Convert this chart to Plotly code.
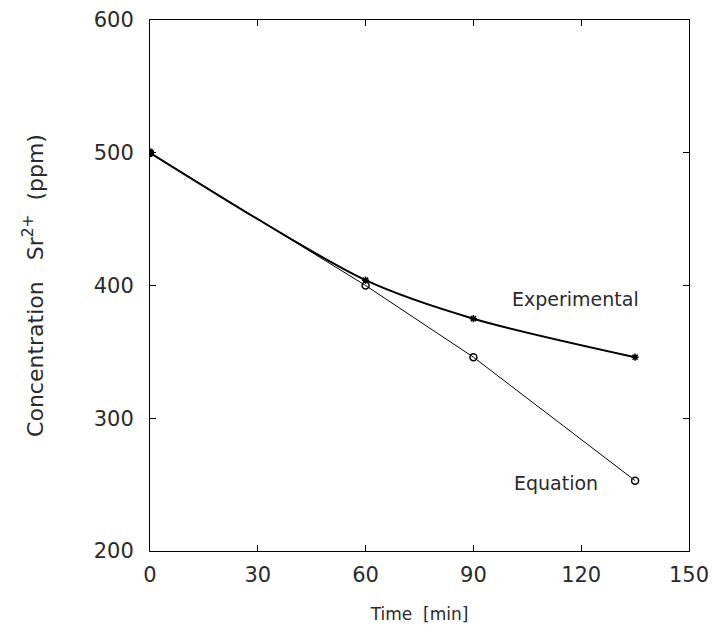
import plotly.graph_objects as go

time_exp = [0, 60, 90, 135]
conc_exp = [500, 404, 375, 346]
time_eq = [0, 60, 90, 135]
conc_eq = [500, 400, 346, 253]
x_ticks = [0, 30, 60, 90, 120, 150]
y_ticks = [200, 300, 400, 500, 600]

FONT = "DejaVu Sans"
TXT = "#2a2a2a"

fig = go.Figure()
fig.add_trace(go.Scatter(
    x=time_exp, y=conc_exp, mode="lines+markers", name="Experimental",
    line=dict(color="black", width=2, shape="spline", smoothing=0.8),
    marker=dict(symbol="asterisk", size=6, color="black", line=dict(color="black", width=1.5)),
    showlegend=False))
fig.add_trace(go.Scatter(
    x=time_eq, y=conc_eq, mode="lines+markers", name="Equation",
    line=dict(color="black", width=1),
    marker=dict(symbol="circle-open", size=7, color="black", line=dict(color="black", width=1.5)),
    showlegend=False))
fig.add_trace(go.Scatter(
    x=[time_exp[0]], y=[conc_exp[0]], mode="markers",
    marker=dict(symbol="circle", size=8, color="black"), showlegend=False))

fig.add_annotation(x=118.5, y=390, text="Experimental", showarrow=False,
                   font=dict(family=FONT, size=19, color=TXT))
fig.add_annotation(x=113, y=251, text="Equation", showarrow=False,
                   font=dict(family=FONT, size=19, color=TXT))

fig.update_layout(
    width=716, height=632,
    margin=dict(l=142, r=35, t=12, b=89),
    paper_bgcolor="white", plot_bgcolor="white",
    font=dict(family=FONT, color=TXT),
)
fig.update_xaxes(
    range=[0, 150], tickvals=x_ticks, ticks="inside", ticklen=6, tickcolor="black",
    showline=True, linecolor="black", linewidth=1, mirror="ticks", showgrid=False,
    zeroline=False, tickfont=dict(family=FONT, size=21, color=TXT), ticklabelstandoff=5,
    ticklabeloverflow="allow", automargin=False,
    title=dict(text="Time&nbsp;&nbsp;[min]", font=dict(family=FONT, size=17, color=TXT), standoff=21),
)
fig.update_yaxes(
    range=[200, 600], tickvals=y_ticks, ticks="inside", ticklen=6, tickcolor="black",
    showline=True, linecolor="black", linewidth=1, mirror="ticks", showgrid=False,
    zeroline=False, tickfont=dict(family=FONT, size=21, color=TXT), ticklabelstandoff=11,
    ticklabeloverflow="allow", automargin=False,
    title=dict(text="Concentration&nbsp;&nbsp;&nbsp;Sr<sup>2+</sup>&nbsp;&nbsp;(ppm)",
               font=dict(family=FONT, size=22, color=TXT), standoff=44),
)
fig.write_html("out.html")
